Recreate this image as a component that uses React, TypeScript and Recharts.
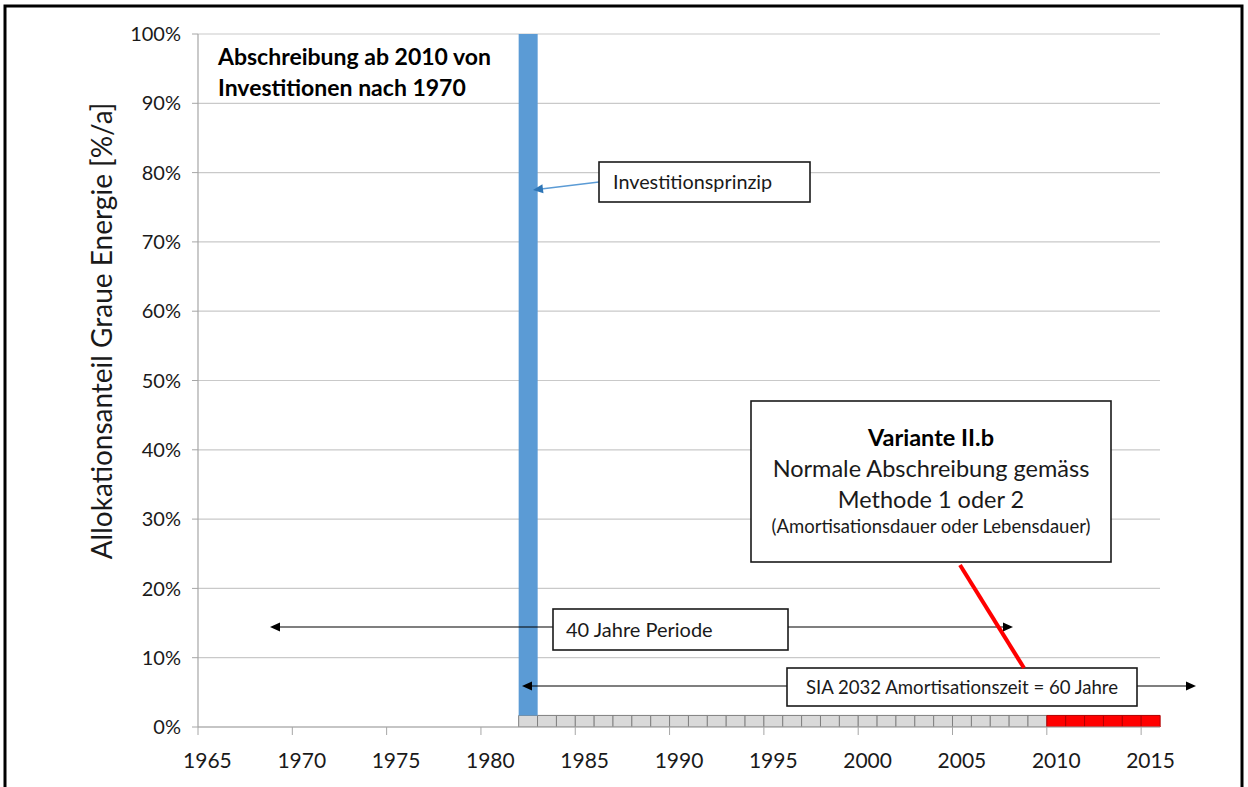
import React from 'react';
import { BarChart, Bar, XAxis, YAxis, CartesianGrid } from 'recharts';

// ---- Data ----
const jahre = [
  1965, 1966, 1967, 1968, 1969, 1970, 1971, 1972, 1973, 1974,
  1975, 1976, 1977, 1978, 1979, 1980, 1981, 1982, 1983, 1984,
  1985, 1986, 1987, 1988, 1989, 1990, 1991, 1992, 1993, 1994,
  1995, 1996, 1997, 1998, 1999, 2000, 2001, 2002, 2003, 2004,
  2005, 2006, 2007, 2008, 2009, 2010, 2011, 2012, 2013, 2014, 2015,
];
// Abschreibung vor 2010 (grau), Jahre 1982..2009, % pro Jahr
const grauStart = 1982;
const grauAnteil = [
  1.67, 1.67, 1.67, 1.67, 1.67, 1.67, 1.67, 1.67, 1.67, 1.67,
  1.67, 1.67, 1.67, 1.67, 1.67, 1.67, 1.67, 1.67, 1.67, 1.67,
  1.67, 1.67, 1.67, 1.67, 1.67, 1.67, 1.67, 1.67,
];
// Abschreibung ab 2010 (rot), Jahre 2010..2015
const rotStart = 2010;
const rotAnteil = [1.67, 1.67, 1.67, 1.67, 1.67, 1.67];
// Investitionsprinzip (blau)
const blauJahr = 1982;
const blauAnteil = 98.33;
const yTicks = [0, 10, 20, 30, 40, 50, 60, 70, 80, 90, 100];

const data = jahre.map((j) => ({
  jahr: j,
  grau: j >= grauStart && j < grauStart + grauAnteil.length ? grauAnteil[j - grauStart] : null,
  rot: j >= rotStart && j < rotStart + rotAnteil.length ? rotAnteil[j - rotStart] : null,
  blau: j === blauJahr ? blauAnteil : null,
}));

// ---- Layout ----
const W = 1248;
const H = 787;
const M = { top: 34, right: 88, bottom: 0, left: 0 };
const Y_AXIS_W = 198;
const X_AXIS_H = 60;
const PLOT_L = M.left + Y_AXIS_W;
const PLOT_R = W - M.right;
const PLOT_B = H - M.bottom - X_AXIS_H;
const BAND = (PLOT_R - PLOT_L) / jahre.length;

const FONT = 'Lato, "Open Sans", sans-serif';
const TXT = '#1a1a1a';
const AXIS = '#a6a6a6';
const GRID = '#c9c9c9';

const XTick = (props: any) => {
  const { x, payload } = props;
  const lx = x - BAND / 2;
  return (
    <g>
      <line x1={lx} y1={PLOT_B} x2={lx} y2={PLOT_B + 8} stroke={AXIS} strokeWidth={1} />
      <text x={x} y={768} textAnchor="middle" fontSize={21} fontFamily={FONT} fill={TXT}>
        {payload.value}
      </text>
    </g>
  );
};

const Head = ({ x, y, angle, color }: { x: number; y: number; angle: number; color: string }) => {
  const len = 10;
  const half = 4.5;
  const bx = x - Math.cos(angle) * len;
  const by = y - Math.sin(angle) * len;
  const px = -Math.sin(angle) * half;
  const py = Math.cos(angle) * half;
  return <polygon points={`${x},${y} ${bx + px},${by + py} ${bx - px},${by - py}`} fill={color} />;
};

const Annotations = () => {
  const box = { fill: '#fff', stroke: '#1a1a1a', strokeWidth: 1.6 };
  return (
    <svg
      width={W}
      height={H}
      style={{ position: 'absolute', left: 0, top: 0, pointerEvents: 'none' }}
    >
      {/* outer frame */}
      <rect x={5} y={6} width={1237} height={900} fill="none" stroke="#000" strokeWidth={3} />

      {/* y axis title */}
      <text
        x={101}
        y={331}
        transform="rotate(-90 101 331)"
        textAnchor="middle"
        dominantBaseline="central"
        fontSize={28}
        fontFamily={FONT}
        fill={TXT}
      >
        Allokationsanteil Graue Energie [%/a]
      </text>

      {/* title */}
      <text x={218} y={65} fontSize={23} fontWeight="bold" fontFamily={FONT} fill="#000">
        Abschreibung ab 2010 von
      </text>
      <text x={218} y={96} fontSize={23} fontWeight="bold" fontFamily={FONT} fill="#000">
        Investitionen nach 1970
      </text>

      {/* Investitionsprinzip */}
      <line x1={599} y1={182} x2={537} y2={189.5} stroke="#5b9bd5" strokeWidth={1.3} />
      <Head x={533} y={190} angle={Math.atan2(8, -66)} color="#2e75b6" />
      <rect x={599} y={162} width={211} height={40} {...box} />
      <text x={613} y={189} fontSize={19.8} fontFamily={FONT} fill={TXT}>
        Investitionsprinzip
      </text>

      {/* 40 Jahre Periode */}
      <line x1={278} y1={627} x2={1005} y2={627} stroke="#000" strokeWidth={1.2} />
      <Head x={270} y={627} angle={Math.PI} color="#000" />
      <Head x={1013} y={627} angle={0} color="#000" />
      <rect x={553} y={609} width={235} height={41} {...box} />
      <text x={566} y={637} fontSize={20} fontFamily={FONT} fill={TXT}>
        40 Jahre Periode
      </text>

      {/* SIA 2032 */}
      <line x1={530} y1={686} x2={1187} y2={686} stroke="#000" strokeWidth={1.2} />
      <Head x={522} y={686} angle={Math.PI} color="#000" />
      <Head x={1196} y={686} angle={0} color="#000" />
      <rect x={787} y={668} width={350} height={38} {...box} />
      <text x={962} y={694} textAnchor="middle" fontSize={18.6} fontFamily={FONT} fill={TXT}>
        SIA 2032 Amortisationszeit = 60 Jahre
      </text>

      {/* Variante II.b */}
      <line x1={960} y1={565} x2={1024} y2={668} stroke="#ff0000" strokeWidth={4} />
      <rect x={751} y={401} width={360} height={161} {...box} />
      <text x={931} y={446} textAnchor="middle" fontSize={23.5} fontWeight="bold" fontFamily={FONT} fill="#000">
        Variante II.b
      </text>
      <text x={931} y={477} textAnchor="middle" fontSize={23.5} fontFamily={FONT} fill={TXT}>
        Normale Abschreibung gemäss
      </text>
      <text x={931} y={508} textAnchor="middle" fontSize={23.5} fontFamily={FONT} fill={TXT}>
        Methode 1 oder 2
      </text>
      <text x={931} y={533} textAnchor="middle" fontSize={18.5} fontFamily={FONT} fill={TXT}>
        (Amortisationsdauer oder Lebensdauer)
      </text>
    </svg>
  );
};

export default function App() {
  return (
    <div style={{ position: 'absolute', left: 0, top: 0, width: W, height: H, background: '#fff' }}>
      <BarChart width={W} height={H} data={data} margin={M} barCategoryGap={0} barGap={0}>
        <CartesianGrid horizontal vertical={false} stroke={GRID} strokeWidth={1.2} />
        <XAxis
          dataKey="jahr"
          type="category"
          interval={4}
          height={X_AXIS_H}
          axisLine={{ stroke: AXIS, strokeWidth: 1.2 }}
          tickLine={false}
          tick={<XTick />}
        />
        <YAxis
          type="number"
          domain={[0, 100]}
          ticks={yTicks}
          width={Y_AXIS_W}
          tickFormatter={(v: number) => `${v}%`}
          tick={{ fontSize: 20, fontFamily: FONT, fill: TXT }}
          tickSize={6}
          tickMargin={11}
          axisLine={{ stroke: AXIS, strokeWidth: 1.2 }}
          tickLine={{ stroke: AXIS }}
          allowDataOverflow
        />
        <Bar dataKey="grau" stackId="a" fill="#d9d9d9" stroke="#7f7f7f" strokeWidth={1} isAnimationActive={false} />
        <Bar dataKey="rot" stackId="a" fill="#ff0000" stroke="#b00000" strokeWidth={1} isAnimationActive={false} />
        <Bar dataKey="blau" stackId="a" fill="#5b9bd5" isAnimationActive={false} />
      </BarChart>
      <Annotations />
    </div>
  );
}
